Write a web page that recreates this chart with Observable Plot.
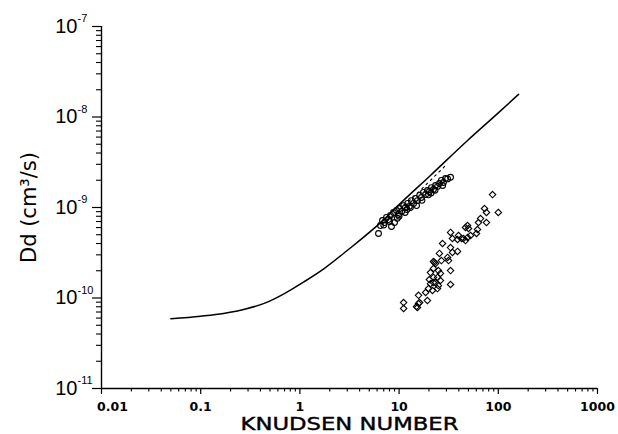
<!DOCTYPE html>
<html>
<head>
<meta charset="utf-8">
<script src="https://cdn.jsdelivr.net/npm/d3@7"></script>
<script src="https://cdn.jsdelivr.net/npm/@observablehq/plot@0.6"></script>
<style>
  html, body { margin: 0; padding: 0; background: #fff; }
</style>
</head>
<body>
<script>
// Theory curve
const knCurve = [0.05, 0.1, 0.17, 0.29, 0.47, 0.69, 1.09, 1.74, 3.0, 6.5, 10.3, 20.7, 49, 100, 160];
const dCurve  = [5.9e-11, 6.3e-11, 6.75e-11, 7.6e-11, 9.0e-11, 1.11e-10, 1.5e-10, 2.1e-10, 3.35e-10, 6.8e-10, 1.11e-9, 2.26e-9, 5.5e-9, 1.11e-8, 1.78e-8];

// Dashed line (just under the curve)
const knDash = [7.5, 15.7, 29.4];
const dDash  = [7.0e-10, 1.48e-9, 2.91e-9];

// Open circles
const knCircle = [6.2, 6.49, 6.8, 7.13, 7.46, 7.82, 8.19, 8.38, 8.78, 8.99, 9.42, 9.86, 10.1, 10.6, 11.1, 11.6, 12.2, 12.7,
  13.3, 14.0, 14.6, 15.3, 16.1, 16.8, 17.6, 18.5, 19.3, 20.2, 21.2, 22.2, 23.3, 24.4, 25.5, 26.7, 28.0, 29.4, 30.8, 33.0,
  7.0, 9.6, 11.5, 13.0, 15.0, 17.0, 19.8, 23.0, 27.5, 21.0, 12.0, 10.0, 8.0];
const dCircle  = [5.16e-10, 6.32e-10, 7.18e-10, 6.82e-10, 7.76e-10, 7.36e-10, 8.17e-10, 6.17e-10, 8.81e-10, 6.82e-10, 9.27e-10, 8.38e-10, 9.75e-10, 9.04e-10, 1.05e-9, 1.0e-9, 1.11e-9, 1.03e-9,
  1.19e-9, 1.11e-9, 1.26e-9, 1.19e-9, 1.36e-9, 1.29e-9, 1.47e-9, 1.39e-9, 1.54e-9, 1.50e-9, 1.66e-9, 1.58e-9, 1.75e-9, 1.71e-9, 1.84e-9, 1.99e-9, 1.89e-9, 2.09e-9, 2.07e-9, 2.16e-9,
  6.4e-10, 7.6e-10, 8.8e-10, 1.0e-9, 1.05e-9, 1.2e-9, 1.38e-9, 1.55e-9, 1.75e-9, 1.45e-9, 9.5e-10, 8.0e-10, 7.0e-10];

// Open diamonds
const knDiamond = [87.5, 72.6, 76.0, 100, 66.2, 63.1, 76.0, 49.0, 46.7, 50.1, 61.7, 60.3, 33.0, 39.7, 42.6, 38.8, 44.6, 49.0, 46.7, 52.5,
  34.5, 27.4, 33.0, 38.8, 34.5, 25.5, 22.2, 23.3, 26.7, 30.8, 31.5, 33.0, 20.7, 24.9, 26.1, 24.4, 20.2, 22.2, 26.1, 24.9,
  24.4, 33.0, 21.7, 19.8, 18.5, 15.7, 19.3, 11.1, 11.1, 15.3, 15.7, 15.0, 16.1, 20.7, 22.2, 22.2, 22.7, 23.3];
const dDiamond  = [1.39e-9, 9.75e-10, 8.81e-10, 8.81e-10, 7.55e-10, 6.82e-10, 6.82e-10, 6.32e-10, 6.01e-10, 5.86e-10, 5.71e-10, 5.16e-10, 5.30e-10, 4.91e-10, 4.54e-10, 4.43e-10, 4.54e-10, 4.67e-10, 4.31e-10, 4.91e-10,
  4.54e-10, 4.00e-10, 3.61e-10, 3.27e-10, 3.19e-10, 3.11e-10, 2.53e-10, 2.40e-10, 2.59e-10, 2.81e-10, 2.59e-10, 2.01e-10, 1.91e-10, 2.01e-10, 1.87e-10, 1.69e-10, 1.60e-10, 1.48e-10, 1.56e-10, 1.37e-10,
  1.27e-10, 1.41e-10, 1.21e-10, 1.27e-10, 1.15e-10, 1.07e-10, 9.38e-11, 8.91e-11, 7.66e-11, 7.85e-11, 8.69e-11, 8.05e-11, 8.91e-11, 1.44e-10, 1.69e-10, 2.12e-10, 2.47e-10, 1.48e-10];

// Axes
const xTicks = [0.01, 0.1, 1, 10, 100, 1000];
const xTickLabels = ["0.01", "0.1", "1", "10", "100", "1000"];
const yTicks = [1e-11, 1e-10, 1e-9, 1e-8, 1e-7];
const yTickExp = ["-11", "-10", "-9", "-8", "-7"];
const xTitle = "KNUDSEN NUMBER";
const yTitle = "Dd (cm\u00B3/s)";

const minorX = [];
for (let e = -2; e < 3; e++) for (let m = 2; m <= 9; m++) minorX.push(m * Math.pow(10, e));
const minorY = [];
for (let e = -11; e < -7; e++) for (let m = 2; m <= 9; m++) minorY.push(m * Math.pow(10, e));

const curve = knCurve.map((k, i) => ({k, d: dCurve[i]}));
const dash = knDash.map((k, i) => ({k, d: dDash[i]}));
const circles = knCircle.map((k, i) => ({k, d: dCircle[i]}));
const diamonds = knDiamond.map((k, i) => ({k, d: dDiamond[i]}));
const xt = xTicks.map((v, i) => ({v, t: xTickLabels[i]}));
const yt = yTicks.map((v, i) => ({v, e: yTickExp[i]}));

const sans = "Liberation Sans, Arial, sans-serif";
const plot = Plot.plot({
  width: 618,
  height: 434,
  marginLeft: 101,
  marginRight: 21,
  marginTop: 26,
  marginBottom: 46,
  style: {background: "#fff", color: "#000", fontFamily: "DejaVu Sans, sans-serif", overflow: "visible"},
  x: {type: "log", domain: [0.01, 1000]},
  y: {type: "log", domain: [1e-11, 1e-7]},
  marks: [
    Plot.axisX(xTicks, {tickSize: 6, tickFormat: () => "", label: null, strokeWidth: 1.2}),
    Plot.axisX(minorX, {tickSize: 3.5, tickFormat: () => "", label: null, strokeWidth: 1.1}),
    Plot.axisY(yTicks, {tickSize: 9, tickFormat: () => "", label: null, strokeWidth: 1.2}),
    Plot.axisY(minorY, {tickSize: 5, tickFormat: () => "", label: null, strokeWidth: 1.1}),
    Plot.ruleX([0.01], {strokeWidth: 1.4}),
    Plot.ruleY([1e-11], {strokeWidth: 1.4}),
    Plot.line(curve, {x: "k", y: "d", stroke: "#000", strokeWidth: 1.5, curve: "monotone-x"}),
    Plot.line(dash, {x: "k", y: "d", stroke: "#000", strokeWidth: 1.1, strokeDasharray: "2,4"}),
    Plot.dot(circles, {x: "k", y: "d", r: 2.9, stroke: "#000", strokeWidth: 1.1}),
    Plot.dot(diamonds, {x: "k", y: "d", symbol: "diamond2", r: 2.9, stroke: "#000", strokeWidth: 1.1}),
    // y tick labels: 10 with superscript exponent
    Plot.text(yt, {y: "v", frameAnchor: "left", text: () => "10", textAnchor: "end", lineAnchor: "middle", dx: -24, fontSize: 20, fontFamily: sans, fill: "#000"}),
    Plot.text(yt, {y: "v", frameAnchor: "left", text: "e", textAnchor: "start", lineAnchor: "middle", dx: -24, dy: -8, fontSize: 11, fontFamily: sans, fill: "#000"}),
    // x tick labels
    Plot.text(xt.slice(0, 1), {x: "v", frameAnchor: "bottom", text: "t", lineAnchor: "middle", dy: 18.5, dx: 11, fontSize: 12.5, fontWeight: "bold", fill: "#000"}),
    Plot.text(xt.slice(1), {x: "v", frameAnchor: "bottom", text: "t", lineAnchor: "middle", dy: 18.5, fontSize: 12.5, fontWeight: "bold", fill: "#000"}),
    // titles
    Plot.text([xTitle], {frameAnchor: "bottom", text: d => d, textAnchor: "middle", lineAnchor: "middle", dy: 36.2, fontSize: 18, fill: "#000"}),
    Plot.text([yTitle], {frameAnchor: "left", text: d => d, textAnchor: "middle", lineAnchor: "middle", dx: -72, rotate: -90, fontSize: 21, fill: "#000"})
  ]
});
// stretch the x title to the reference's wide lettering
d3.select(plot).selectAll("text").filter(function () { return this.textContent === xTitle; })
  .attr("textLength", 218).attr("lengthAdjust", "spacingAndGlyphs")
  .style("stroke", "#000").style("stroke-width", "0.4px");
document.body.append(plot);
</script>
</body>
</html>
